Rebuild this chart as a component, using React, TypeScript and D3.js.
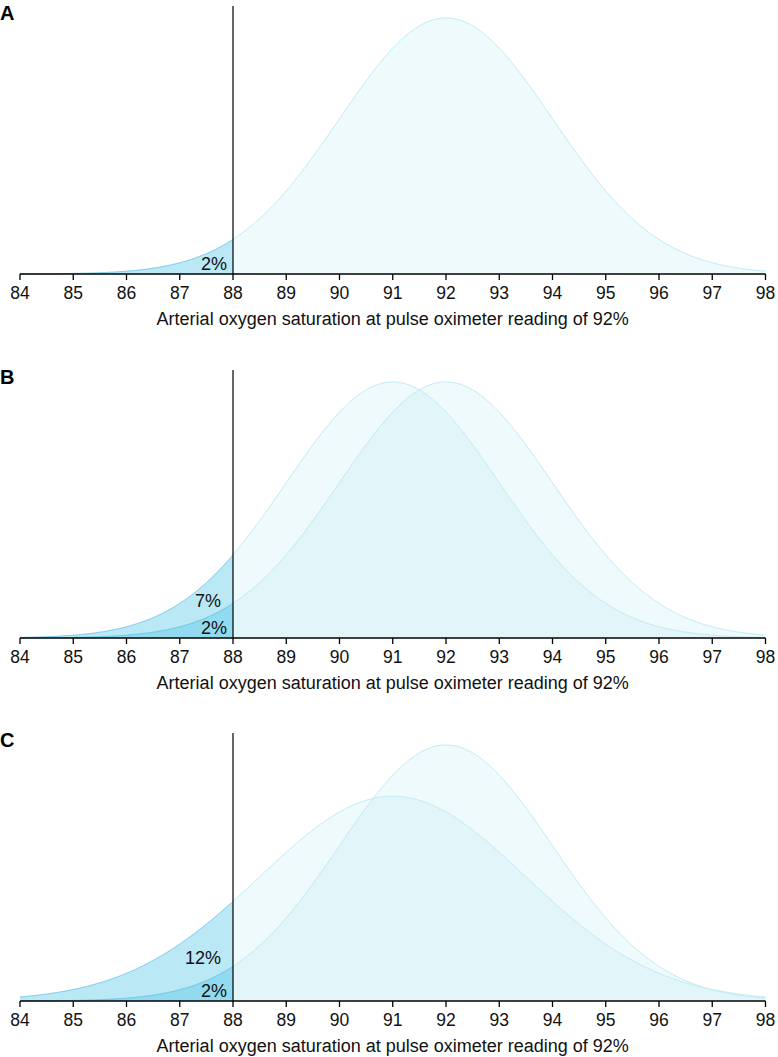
import React from 'react';
import * as d3 from 'd3';

const panelLetters = ['A', 'B', 'C'];
const curveMeans = [[92], [92, 91], [92, 91]];
const curveSDs = [[2], [2, 2], [2, 2.5]];
const tailLabels = [['2%'], ['2%', '7%'], ['2%', '12%']];
const xTicks = [84, 85, 86, 87, 88, 89, 90, 91, 92, 93, 94, 95, 96, 97, 98];
const threshold = 88;
const axisTitle = 'Arterial oxygen saturation at pulse oximeter reading of 92%';

const W = 778;
const H = 1057;
const baselines = [274, 638, 1001];
const plotH = 268;
const font = '"Liberation Sans", Arial, Helvetica, sans-serif';

const x = d3.scaleLinear().domain([84, 98]).range([20, 765.5]);

const pdf = (v: number, m: number, s: number) =>
  Math.exp(-((v - m) ** 2) / (2 * s * s)) / (s * Math.sqrt(2 * Math.PI));

const peakDensity = pdf(92, 92, 2);
const yMaxDensity = (peakDensity * plotH) / 256;

export default function App() {
  const full = d3.range(84, 98.0001, 0.05);
  const tail = d3.range(84, threshold + 0.0001, 0.025);
  return (
    <svg width={W} height={H} style={{ position: 'absolute', left: 0, top: 0 }} fontFamily={font}>
      {panelLetters.map((letter, pi) => {
        const base = baselines[pi];
        const y = d3.scaleLinear().domain([0, yMaxDensity]).range([base, base - plotH]);
        const means = curveMeans[pi];
        const sds = curveSDs[pi];
        const areaFor = (m: number, s: number) =>
          d3
            .area<number>()
            .x((d) => x(d))
            .y0(base)
            .y1((d) => y(pdf(d, m, s)));
        const lineFor = (m: number, s: number) =>
          d3
            .line<number>()
            .x((d) => x(d))
            .y((d) => y(pdf(d, m, s)));
        const order = means.map((_, i) => i).sort((a, b) => {
          const pa = pdf(threshold, means[a], sds[a]);
          const pb = pdf(threshold, means[b], sds[b]);
          return pb - pa;
        });
        return (
          <g key={letter}>
            <text x={0} y={base - 254} fontSize={20} fontWeight="bold" fill="#000">
              {letter}
            </text>
            {means.map((m, i) => (
              <g key={'c' + i}>
                <path d={areaFor(m, sds[i])(full) || ''} fill="rgb(175,228,242)" fillOpacity={0.2} />
                <path d={lineFor(m, sds[i])(full) || ''} fill="none" stroke="#c2ebf5" strokeWidth={1} />
              </g>
            ))}
            {order.map((i) => (
              <g key={'t' + i}>
                <path d={areaFor(means[i], sds[i])(tail) || ''} fill="rgb(85,195,232)" fillOpacity={0.34} />
                <path
                  d={lineFor(means[i], sds[i])(tail) || ''}
                  fill="none"
                  stroke="rgb(80,185,230)"
                  strokeOpacity={0.45}
                  strokeWidth={1}
                />
              </g>
            ))}
            {tailLabels[pi].map((lab, i) => {
              const isInner = i === 0;
              const dens = pdf(threshold, means[i], sds[i]);
              const ly = isInner ? base - 4 : y(dens * 0.37);
              return (
                <text
                  key={'l' + i}
                  x={x(threshold) - (isInner ? 6 : 12)}
                  y={ly}
                  fontSize={18}
                  textAnchor="end"
                  fill="#111"
                >
                  {lab}
                </text>
              );
            })}
            <line x1={x(threshold)} x2={x(threshold)} y1={base - plotH} y2={base} stroke="#000" strokeWidth={1.2} />
            <line x1={x(84)} x2={x(98)} y1={base} y2={base} stroke="#000" strokeWidth={1.5} />
            {xTicks.map((t) => (
              <g key={t}>
                <line x1={x(t)} x2={x(t)} y1={base} y2={base + 6} stroke="#000" strokeWidth={1.3} />
                <text x={x(t)} y={base + 25} fontSize={17.5} textAnchor="middle" fill="#111">
                  {t}
                </text>
              </g>
            ))}
            <text x={(x(84) + x(98)) / 2} y={base + 51} fontSize={18} textAnchor="middle" fill="#111">
              {axisTitle}
            </text>
          </g>
        );
      })}
    </svg>
  );
}
